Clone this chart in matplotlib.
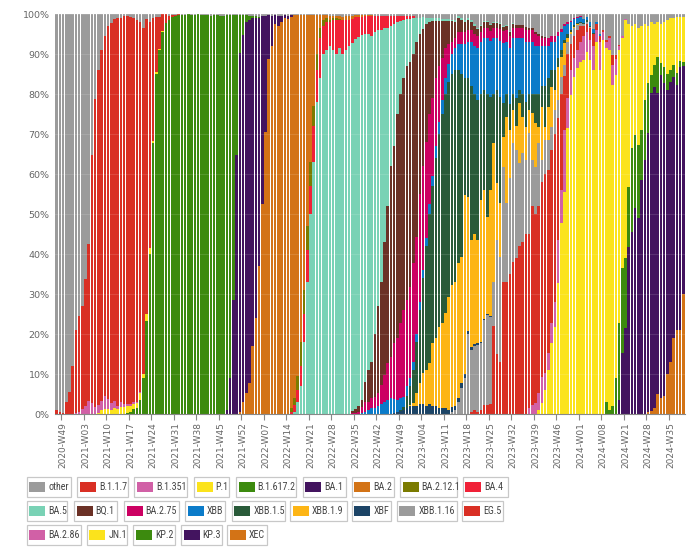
import numpy as np
import matplotlib
matplotlib.use("Agg")
import matplotlib.pyplot as plt
from matplotlib.patches import Rectangle
from matplotlib import font_manager as fm

# ---------------- categories (ISO weeks present in the data) ----------------
weeks = [f"2020-W{w:02d}" for w in range(47, 54)]
for yr in (2021, 2022, 2023):
    weeks += [f"{yr}-W{w:02d}" for w in range(1, 53)]
weeks += [f"2024-W{w:02d}" for w in range(1, 40) if not (15 <= w <= 20)]
N = len(weeks)

variants = ["other", "B.1.1.7", "B.1.351", "P.1", "B.1.617.2", "BA.1", "BA.2",
            "BA.2.12.1", "BA.4", "BA.5", "BQ.1", "BA.2.75", "XBB", "XBB.1.5",
            "XBB.1.9", "XBF", "XBB.1.16", "EG.5", "BA.2.86", "JN.1", "KP.2",
            "KP.3", "XEC"]
colors = ["#9b9b9b", "#d92f24", "#d160a6", "#fbe31c", "#3c8a0e", "#43145f",
          "#d37316", "#7b7b00", "#f02137", "#79d2b5", "#6b3126", "#cc0062",
          "#0b7bc9", "#295a39", "#fdb515", "#1c4466", "#9b9b9b", "#d92f24",
          "#d160a6", "#fbe31c", "#3c8a0e", "#43145f", "#d37316"]

# ---------------- shares in percent (start index, weekly values) ----------------
B117_start = 0
B117 = [1, 0.5, 0.3, 3, 5.5, 12, 20.6, 24, 25.8, 31.7, 39.2, 62, 77, 83.8, 87.8,
        90, 93.3, 94.9, 95.4, 97, 96.1, 97, 97.1, 96.7, 96, 95.4, 92.5, 86.5,
        73.8, 56.6, 30.7, 13.7, 8, 4.2, 2.3, 0.9, 0.5, 0.3, 0.2]
B1351_start = 6
B1351 = [0.3, 0.5, 1.2, 2, 3.3, 2.8, 1.8, 2, 2.2, 3.3, 2.5, 1.8, 1.8, 0.8, 1.2,
         0.8, 0.4, 0.5, 0.4, 0.3, 0.2, 0.1]
P1_start = 13
P1 = [0.2, 1, 1.2, 1.2, 1, 1.5, 1.2, 1.7, 1.7, 1.8, 1.5, 1.3, 1.3, 1.8, 1, 1.6,
      1.4, 0.6, 0.6, 0.3, 0.2]
B16172_start = 22
B16172 = [0.2, 0.6, 1.3, 1.5, 3.5, 9, 23.3, 40, 67.7, 85, 91, 95.6, 97.7, 98.6,
          99.3, 99.5, 99.7, 99.8, 99.8, 99.9, 99.8, 99.8, 99.9, 99.8, 99.7, 99.8,
          99.6, 99.7, 99.8, 99.5, 99.4, 98.8, 90.8, 71.3, 35.1, 9.6, 5, 1.8, 1,
          0.5, 0.5, 0.3]
BA1_start = 53
BA1 = [1, 9, 28.5, 64.7, 89.7, 91.7, 92.7, 90.7, 82, 75, 62, 47, 29, 11, 7.5,
       2.3, 2.5, 1.5, 0.8, 0.8, 0.4]
BA2_start = 57
BA2 = [0.5, 3, 5.3, 7.8, 17, 24, 37, 52.5, 70.6, 88.7, 92, 97.5, 97, 98, 99,
       98.8, 97.8, 95.8, 90.2, 81.7, 68.7, 52.7, 36.7, 22.7, 9.7, 3.2, 1.2, 0.7,
       1, 0.6, 0.6, 0.7, 0.6, 0.8, 0.8, 0.6, 0.5, 0.5, 0.4, 0.3, 0.3, 0.3]
BA2121_start = 73
BA2121 = [1, 1.7, 3.5, 6, 6, 6, 6, 5, 4, 2.5, 1.5, 1, 0.6, 0.5, 0.4, 0.3]
BA4_start = 73
BA4 = [0.5, 1.7, 3, 5, 7, 8, 7, 9, 8, 10, 7, 7, 6, 7.5, 8.5, 7, 8.5, 7.5, 6.5, 6,
       5.5, 5, 4.5, 4.5, 4.5, 5, 4, 3.5, 3.5, 3, 3, 2.5, 2, 1.5, 1.2, 1, 0.8,
       0.6, 0.5]
BA5_start = 74
BA5 = [0.5, 3, 7, 18, 33, 50, 63, 78, 84, 90, 91, 92, 91, 90, 91.5, 90, 91, 92,
       92, 92.5, 92.2, 91.3, 86.9, 84, 81.5, 75.5, 69, 63, 53.5, 44.5, 35, 30.5,
       23, 18.3, 14.5, 11.7, 10.8, 9, 6, 4, 3, 1.5, 1, 0.8, 0.7, 0.6, 0.5, 0.5,
       0.5, 0.4, 0.4, 0.4, 0.4, 0.4, 0.4, 0.4, 0.4, 0.3, 0.3, 0.3, 0.3, 0.3, 0.3,
       0.3, 0.3, 0.3, 0.3, 0.3, 0.3]
BQ1_start = 92
BQ1 = [0.6, 0.9, 1.5, 1.7, 5, 8, 9, 15.7, 21.8, 25.7, 33.3, 39.3, 47.7, 49.3, 56,
       57.3, 58, 58.5, 56.2, 52.3, 48.7, 40, 34.3, 29.5, 23, 19.2, 14.3, 11.3,
       9.3, 6.8, 5.7, 5.2, 4, 3.5, 3, 2.5, 2.5, 2, 2, 1.8, 1.5, 1.5, 1.5, 1.5,
       1.2, 1.2, 1.2, 1, 1, 1, 1, 0.8, 0.8, 0.8, 0.7, 0.6, 0.5, 0.5, 0.4, 0.4,
       0.3]
BA275_start = 89
BA275 = [0.1, 0.1, 0.1, 0.2, 0.3, 0.5, 1.5, 2.5, 2, 2.6, 2.8, 3.2, 4.8, 6.7, 9.2,
         10.3, 13.9, 15.5, 18.6, 21.7, 21.5, 22.8, 24.7, 24.3, 27, 26, 24, 22.5,
         19.5, 17, 14, 10.5, 7.5, 5, 3, 2.5, 3, 3, 3, 3, 3, 3, 3, 2.5, 2.5, 2.5,
         2.5, 2.5, 2.5, 3, 3, 3, 3, 2.5, 2.5, 2.5, 2.5, 3, 3, 3, 3, 2.5, 2, 2, 2,
         1.5, 1.5, 1, 0.8, 0.5, 0.5, 0.3, 0.3, 0.2, 0.2]
XBB_start = 95
XBB = [0.3, 0.5, 1, 1.4, 1.5, 2, 2.5, 3, 3.5, 4, 3.5, 3, 3, 2.5, 2.5, 2, 2, 2, 2,
       2, 2, 2.5, 2.5, 3, 3, 3.5, 4, 4.5, 5, 5.5, 6.5, 7.5, 8.5, 9, 11, 12, 13,
       13, 13, 14, 14, 14, 13, 14, 15, 13, 14, 14, 15, 13, 14, 15, 13, 13, 12,
       12, 10, 10, 8, 7, 7, 5.5, 4.5, 3.5, 2.5, 2, 1.5, 1.2, 1.2, 1, 0.8, 1, 1,
       0.5, 0.5]
XBB15_start = 107
XBB15 = [0.3, 0.8, 3, 4.8, 8.3, 12.8, 18.3, 23.8, 31, 37.3, 39.3, 45, 48.2, 52.3,
         54.8, 53.7, 52.7, 53, 48.3, 45.7, 29.2, 29.7, 38.5, 35, 35, 26.5, 25,
         30.7, 23.3, 12.3, 23.3, 26.6, 8.4, 5.7, 6.5, 4, 7, 3.3, 5.7, 6.2, 4,
         4.8, 7.3, 8.2, 5.2, 10.2, 7.2, 4.2, 5, 2.2, 1.7, 0.8, 1, 0.5, 0.5, 0.3,
         0.2, 0.3, 0.3, 0.3, 0.3]
XBB19_start = 110
XBB19 = [0.2, 0.7, 3.2, 5.2, 7.7, 9, 10.2, 15.7, 17, 20.3, 21.2, 23.7, 28.3,
         30.6, 31, 33.7, 31.6, 44.8, 33.5, 26.7, 27.5, 25.7, 35.5, 32.2, 24.2,
         31.5, 34.7, 14.2, 13.4, 7.5, 21.6, 12, 8.3, 6, 15, 9.1, 8.3, 5.8, 11.7,
         10.9, 4.1, 13.3, 3.3, 8.3, 10, 5, 8.3, 5, 5.5, 1, 0.5, 0.3, 0.2, 0.1]
XBF_start = 105
XBF = [0.3, 0.5, 0.8, 1, 1.5, 2, 2, 2, 2.5, 2.5, 2, 2.5, 2, 2, 1.5, 1.5, 1.5, 1,
       1.2, 1, 1, 1.2, 1, 0.8, 0.8, 0.5, 0.5, 0.3, 0.3, 0.3, 0.2]
XBB116_start = 123
XBB116 = [0.5, 1, 3, 6.5, 9, 20, 15.5, 16, 16.8, 16.7, 21.3, 22.6, 21.8, 11,
          28.5, 26.3, 28.8, 19.7, 24, 29.7, 27, 20.7, 22.2, 18.5, 25.2, 11.5,
          11.8, 15.7, 5.5, 8.5, 7.5, 5.8, 6, 4.5, 4.3, 2.6, 3, 2.5, 2, 1.3, 0.7,
          0.5, 0.5, 0.3]
EG5_start = 129
EG5 = [0.5, 1, 0.5, 1, 2.2, 2.2, 2.5, 22, 15, 13, 33, 33, 35, 38, 39, 42, 43, 45,
       43.6, 49.8, 47.3, 46.8, 48.7, 49.8, 45.8, 43.3, 42, 30.5, 24, 13.6, 11,
       6.5, 5.5, 5, 4, 2.5, 2, 3, 3, 1.5, 1.5, 0.5, 0.5, 0.5, 2.5, 1, 0.3]
BA286_start = 147
BA286 = [1.4, 2.2, 2.7, 4.2, 6.6, 4.2, 4.2, 5, 6.2, 10.8, 8.3, 15.4, 7.6, 6.2,
         4.7, 4.5, 5, 6, 5, 5, 6, 3, 7, 2, 1.5, 3, 5, 4, 1, 0.5, 0.3]
JN1_start = 150
JN1 = [1, 2.7, 6, 11, 17.7, 21.8, 32.7, 47.7, 55.6, 71.4, 79.8, 84.3, 86.5, 88,
       88.5, 90.6, 88.5, 86, 93, 86, 93.5, 88.4, 90, 80.3, 75.8, 68.3, 57.6,
       59.6, 40.7, 30.6, 27.8, 29.2, 26, 19, 14.3, 13.2, 10.3, 8.7, 9.7, 11.3,
       13.5, 13, 11.7, 14, 11, 11.3]
KP2_start = 171
KP2 = [3, 1, 2, 9, 19.2, 21.2, 17.5, 15, 20.8, 18.3, 18.3, 12.5, 15, 12.5, 4.6,
       5.4, 9.1, 3, 4, 4, 3, 3, 3, 1.5, 1]
KP3_start = 175
KP3 = [3.5, 15.2, 21.4, 41.8, 45.6, 51.4, 49, 58.5, 63.5, 69.7, 79.4, 80.3, 75.2,
       80.8, 78.2, 71, 70, 65.3, 61.3, 65.8, 57]
XEC_start = 184
XEC = [0.5, 0.8, 1.5, 5, 4, 4.5, 10, 13, 19, 21, 21, 30]

series = {
    "B.1.1.7": (B117_start, B117), "B.1.351": (B1351_start, B1351),
    "P.1": (P1_start, P1), "B.1.617.2": (B16172_start, B16172),
    "BA.1": (BA1_start, BA1), "BA.2": (BA2_start, BA2),
    "BA.2.12.1": (BA2121_start, BA2121), "BA.4": (BA4_start, BA4),
    "BA.5": (BA5_start, BA5), "BQ.1": (BQ1_start, BQ1),
    "BA.2.75": (BA275_start, BA275), "XBB": (XBB_start, XBB),
    "XBB.1.5": (XBB15_start, XBB15), "XBB.1.9": (XBB19_start, XBB19),
    "XBF": (XBF_start, XBF), "XBB.1.16": (XBB116_start, XBB116),
    "EG.5": (EG5_start, EG5), "BA.2.86": (BA286_start, BA286),
    "JN.1": (JN1_start, JN1), "KP.2": (KP2_start, KP2),
    "KP.3": (KP3_start, KP3), "XEC": (XEC_start, XEC),
}

data = np.zeros((len(variants), N))
for k, name in enumerate(variants):
    if name == "other":
        continue
    start, vals = series[name]
    data[k, start:start + len(vals)] = vals
data[0] = np.clip(100 - data[1:].sum(axis=0), 0, None)

# ---------------- legend font: a condensed face if one is installed ----------------
installed = {f.name for f in fm.fontManager.ttflist}
leg_family, leg_size = "Liberation Sans", 5.9
for cand in ("Liberation Sans Narrow", "Roboto Condensed", "DejaVu Sans Condensed",
             "Open Sans Condensed"):
    if cand in installed:
        leg_family, leg_size = cand, 7.2
        break

# ---------------- figure ----------------
W, H = 692, 549
fig = plt.figure(figsize=(W / 100, H / 100), dpi=100)
ax = fig.add_axes([55 / W, 1 - 414 / H, 630 / W, 400 / H])
x = np.arange(N)
bottom = np.zeros(N)
for k in reversed(range(len(variants))):
    ax.bar(x, data[k], bottom=bottom, width=0.8, color=colors[k], linewidth=0)
    bottom += data[k]

ax.set_xlim(-0.5, N - 0.5)
ax.set_ylim(0, 100)
ax.set_yticks(range(0, 101, 10))
ax.set_yticklabels([f"{v}%" for v in range(0, 101, 10)], fontsize=6.8,
                   color="#666666")
ax.tick_params(axis="y", length=0, pad=4)
ticks = list(range(2, N, 7))
ax.set_xticks(ticks)
ax.set_xticklabels([weeks[t] for t in ticks], rotation=90, fontsize=6.5,
                   color="#666666")
ax.set_xticks([t - 0.5 for t in ticks], minor=True)
ax.tick_params(axis="x", which="major", length=0, pad=6)
ax.tick_params(axis="x", which="minor", length=4, color="#888888", width=0.8)
for s in ("top", "right", "left"):
    ax.spines[s].set_visible(False)
ax.spines["bottom"].set_color("#888888")
ax.spines["bottom"].set_linewidth(0.8)
ax.yaxis.grid(True, color="white", alpha=0.12, linewidth=0.8)
ax.set_axisbelow(False)

# ---------------- legend (boxed items, pixel layout) ----------------
legend_rows = [variants[0:9], variants[9:18], variants[18:23]]
row_tops = [477, 500.5, 524.5]
row_boxes = [
    [(26.7, 70.7), (77.3, 127.7), (134.3, 187.3), (194, 229.3), (236, 296),
     (302.7, 346), (351.7, 394), (400, 457.3), (462.7, 508.3)],
    [(26.7, 67.3), (74, 117.3), (124, 178.7), (185, 225), (231.7, 285),
     (290, 346.7), (351.7, 390.7), (396.7, 456.7), (461.7, 503.3)],
    [(26.7, 80.7), (86.7, 127.3), (133.3, 175), (181, 221.7), (227.3, 266.7)],
]
box_h = 20
for row, ytop, boxes in zip(legend_rows, row_tops, row_boxes):
    for name, (xl, xr) in zip(row, boxes):
        k = variants.index(name)
        fig.add_artist(Rectangle((xl / W, 1 - (ytop + box_h) / H), (xr - xl) / W,
                                 box_h / H, transform=fig.transFigure,
                                 facecolor="white", edgecolor="#c8c8c8",
                                 linewidth=0.9, zorder=1))
        fig.add_artist(Rectangle(((xl + 2.5) / W, 1 - (ytop + 15) / H), 16 / W,
                                 10 / H, transform=fig.transFigure,
                                 facecolor=colors[k], edgecolor="none",
                                 zorder=2))
        fig.text((xl + 21.5) / W, 1 - (ytop + box_h / 2 + 0.5) / H, name,
                 fontsize=leg_size, family=[leg_family, "DejaVu Sans"],
                 color="#444444", va="center", ha="left", zorder=3)

fig.savefig("out.png", dpi=100)
